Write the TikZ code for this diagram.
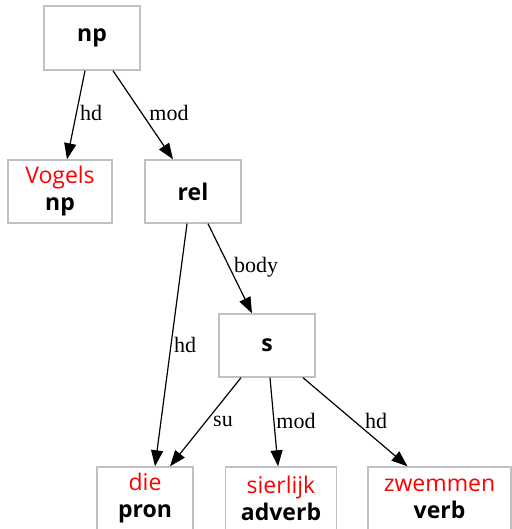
\documentclass[tikz,border=0pt]{standalone}
\usepackage{fontspec}
\setmainfont{Liberation Serif}
\newfontfamily\boxfont{Open Sans}
\usetikzlibrary{arrows.meta}
\definecolor{boxgray}{HTML}{C0C0C0}
\definecolor{wordred}{HTML}{FF0000}
\tikzset{
  box/.style={draw=boxgray, line width=1.4bp, inner sep=0pt, align=center,
    font=\boxfont\fontsize{23bp}{27bp}\selectfont, minimum height=63bp},
  conn/.style={line width=1.2bp, -{Triangle[length=16bp,width=12bp]}},
  lbl/.style={font=\fontsize{22bp}{24bp}\selectfont, inner sep=0pt}
}
\begin{document}
\begin{tikzpicture}[x=1bp,y=-1bp]
\useasboundingbox (0,0) rectangle (512,529);
\node[box, minimum width=96bp, minimum height=64bp] (np) at (92,38) {\bfseries np};
\node[box, minimum width=104bp] (vogels) at (60,191.5) {\textcolor{wordred}{Vogels}\\\bfseries np};
\node[box, minimum width=96bp] (rel) at (193,191.5) {\bfseries rel};
\node[box, minimum width=96bp] (s) at (267,345.5) {\bfseries s};
\node[box, minimum width=96bp] (die) at (145,498.5) {\textcolor{wordred}{die}\\\bfseries pron};
\node[box, minimum width=111bp] (sierlijk) at (281,498.5) {\textcolor{wordred}{sierlijk}\\\bfseries adverb};
\node[box, minimum width=143bp] (zwemmen) at (439.5,498.5) {\textcolor{wordred}{zwemmen}\\\bfseries verb};

\draw[conn] ([xshift=-7bp]np.south) -- ([xshift=7bp]vogels.north);
\draw[conn] ([xshift=21bp]np.south) -- ([xshift=-20bp]rel.north);
\draw[conn] ([xshift=-6bp]rel.south) -- ([xshift=10bp]die.north);
\draw[conn] ([xshift=15bp]rel.south) -- ([xshift=-15bp]s.north);
\draw[conn] ([xshift=-26bp]s.south) -- ([xshift=25bp]die.north);
\draw[conn] ([xshift=3bp]s.south) -- ([xshift=-3bp]sierlijk.north);
\draw[conn] ([xshift=36bp]s.south) -- ([xshift=-32bp]zwemmen.north);

\node[lbl] (l1) at (91,113) {hd};
\node[lbl] (l2) at (169,113) {mod};
\node[lbl] (l3) at (256,267) {body};
\node[lbl] (l4) at (185,345) {hd};
\node[lbl] (l5) at (223,421) {su};
\node[lbl] (l6) at (296,421) {mod};
\node[lbl] (l7) at (376,421) {hd};
\end{tikzpicture}
\end{document}
